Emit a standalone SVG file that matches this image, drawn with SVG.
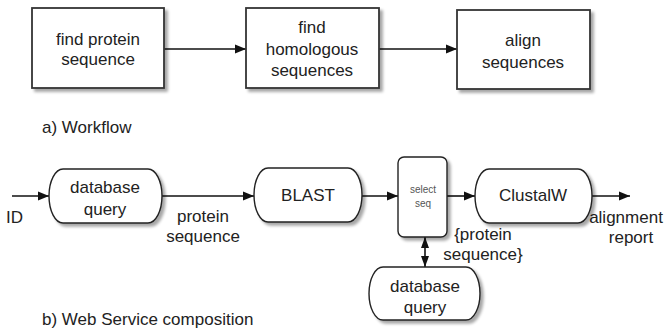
<svg xmlns="http://www.w3.org/2000/svg" width="667" height="330" viewBox="0 0 667 330">
<style>
.box{fill:#fff;stroke:#333;stroke-width:1.8}
.node{fill:#fff;stroke:#222;stroke-width:1.4}
.t{font-family:"Liberation Sans",Arial,sans-serif;font-size:17px;fill:#222;text-anchor:middle}
.l{font-family:"Liberation Sans",Arial,sans-serif;font-size:17px;fill:#222}
.small{font-family:"Liberation Sans",Arial,sans-serif;font-size:10px;fill:#555;text-anchor:middle}
.c{stroke:#111;stroke-width:1.6;fill:none}
</style>
<defs>
<filter id="sh" x="-10%" y="-10%" width="130%" height="140%">
<feGaussianBlur in="SourceAlpha" stdDeviation="1.5"/>
<feOffset dx="3" dy="3" result="b"/>
<feComponentTransfer><feFuncA type="linear" slope="0.35"/></feComponentTransfer>
<feMerge><feMergeNode/><feMergeNode in="SourceGraphic"/></feMerge>
</filter>
<marker id="ah" markerWidth="12" markerHeight="10" refX="11" refY="5" orient="auto" markerUnits="userSpaceOnUse">
<path d="M0,0.5 L11,5 L0,9.5 Z" fill="#111"/>
</marker>
<marker id="ahs" markerWidth="12" markerHeight="10" refX="11" refY="5" orient="auto-start-reverse" markerUnits="userSpaceOnUse">
<path d="M0,1 L11,5 L0,9 Z" fill="#111"/>
</marker>
</defs>
<rect width="667" height="330" fill="#fff"/>

<g id="connectors">
<line class="c" x1="164" y1="49" x2="246" y2="49" marker-end="url(#ah)"/>
<line class="c" x1="379" y1="49" x2="457" y2="49" marker-end="url(#ah)"/>
<line class="c" x1="12" y1="196" x2="49" y2="196" marker-end="url(#ah)"/>
<line class="c" x1="162" y1="196" x2="254" y2="196" marker-end="url(#ah)"/>
<line class="c" x1="362" y1="196" x2="398" y2="196" marker-end="url(#ah)"/>
<line class="c" x1="447" y1="196" x2="475" y2="196" marker-end="url(#ah)"/>
<line class="c" x1="592" y1="196" x2="630" y2="196" marker-end="url(#ah)"/>
<line class="c" x1="425" y1="237" x2="425" y2="267" marker-start="url(#ahs)" marker-end="url(#ahs)"/>
<text class="l" x="6" y="223">ID</text>
<text class="t" x="203" y="222">protein</text>
<text class="t" x="203" y="242">sequence</text>
<text class="t" x="483" y="240">{protein</text>
<text class="t" x="483" y="260">sequence}</text>
<text class="t" x="626" y="223">alignment</text>
<text class="t" x="631" y="243">report</text>
</g>

<g id="find-protein">
<rect class="box" x="32" y="8" width="132" height="80" filter="url(#sh)"/>
<text class="t" x="98" y="45">find protein</text>
<text class="t" x="98" y="65">sequence</text>
</g>
<g id="find-homologous">
<rect class="box" x="246" y="8" width="133" height="80" filter="url(#sh)"/>
<text class="t" x="312" y="33">find</text>
<text class="t" x="312" y="55">homologous</text>
<text class="t" x="312" y="76">sequences</text>
</g>
<g id="align">
<rect class="box" x="457" y="10" width="133" height="79" filter="url(#sh)"/>
<text class="t" x="523" y="46">align</text>
<text class="t" x="523" y="68">sequences</text>
</g>
<text class="l" x="42" y="133">a) Workflow</text>

<g id="db-query-1">
<path class="node" d="M63,169 H148 A14,27 0 0 1 148,223 H63 A14,27 0 0 1 63,169 Z" filter="url(#sh)"/>
<text class="t" x="105" y="193">database</text>
<text class="t" x="105" y="215">query</text>
</g>
<g id="blast">
<path class="node" d="M268,168 H348 A14,27 0 0 1 348,222 H268 A14,27 0 0 1 268,168 Z" filter="url(#sh)"/>
<text class="t" x="308" y="201">BLAST</text>
</g>
<g id="select-seq">
<rect class="node" x="398" y="157" width="49" height="80" rx="6" filter="url(#sh)"/>
<text class="small" x="423" y="193">select</text>
<text class="small" x="423" y="207">seq</text>
</g>
<g id="clustalw">
<path class="node" d="M489,169 H578 A14,27 0 0 1 578,223 H489 A14,27 0 0 1 489,169 Z" filter="url(#sh)"/>
<text class="t" x="533" y="201">ClustalW</text>
</g>
<g id="db-query-2">
<path class="node" d="M383,267 H466 A14,26.5 0 0 1 466,320 H383 A14,26.5 0 0 1 383,267 Z" filter="url(#sh)"/>
<text class="t" x="425" y="292">database</text>
<text class="t" x="425" y="313">query</text>
</g>
<text class="l" x="42" y="325">b) Web Service composition</text>
</svg>
